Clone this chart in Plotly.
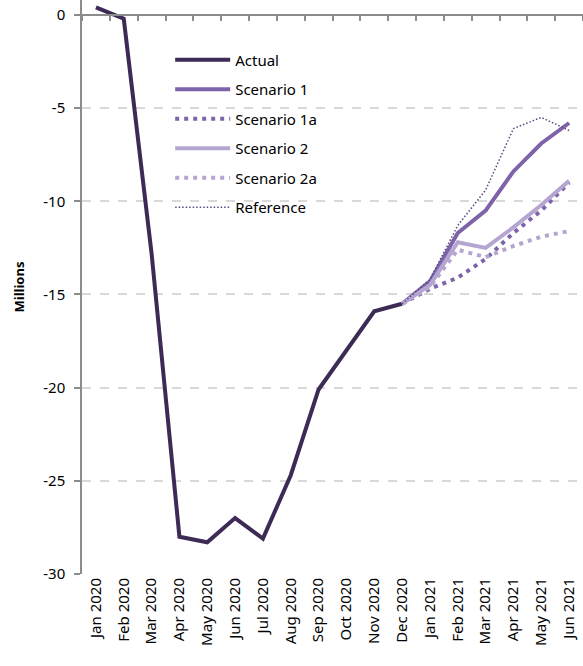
import plotly.graph_objects as go

months = ["Jan 2020", "Feb 2020", "Mar 2020", "Apr 2020", "May 2020", "Jun 2020",
          "Jul 2020", "Aug 2020", "Sep 2020", "Oct 2020", "Nov 2020", "Dec 2020",
          "Jan 2021", "Feb 2021", "Mar 2021", "Apr 2021", "May 2021", "Jun 2021"]

actual = [0.4, -0.2, -12.8, -28.0, -28.3, -27.0, -28.1, -24.7, -20.1, -18.0, -15.9, -15.5]
scen_months = months[11:]
scenario1 = [-15.5, -14.3, -11.7, -10.5, -8.4, -6.9, -5.8]
scenario1a = [-15.5, -14.7, -14.1, -13.1, -11.7, -10.5, -9.0]
scenario2 = [-15.5, -14.5, -12.2, -12.5, -11.4, -10.2, -8.9]
scenario2a = [-15.5, -14.6, -12.6, -13.0, -12.4, -11.9, -11.6]
reference = [-15.5, -14.2, -11.3, -9.4, -6.1, -5.5, -6.2]

y_ticks = [0, -5, -10, -15, -20, -25, -30]

C_ACT = "#3D2B56"
C_S1 = "#7E63A9"
C_S2 = "#B5A6D1"
C_REF = "#5B4A80"

fig = go.Figure()

def add(name, x, y, color, width, dash, group):
    fig.add_trace(go.Scatter(x=x, y=y, name=name, mode="lines",
                             line=dict(color=color, width=width, dash=dash),
                             legendgroup=group, hoverinfo="x+y+name"))

add("Actual", months[:12], actual, C_ACT, 4, "solid", "a")
add("Scenario 1", scen_months, scenario1, C_S1, 4, "solid", "b")
add("Scenario 1a", scen_months, scenario1a, C_S1, 4, "4px,5px", "c")
add("Scenario 2", scen_months, scenario2, C_S2, 4, "solid", "d")
add("Scenario 2a", scen_months, scenario2a, C_S2, 4, "4px,5px", "e")
add("Reference", scen_months, reference, C_REF, 1.5, "1.5px,2px", "f")

# invisible trace to carry the zero-line axis with boundary ticks
fig.add_trace(go.Scatter(x=months, y=[0] * len(months), xaxis="x2", yaxis="y",
                         mode="lines", line=dict(width=0), opacity=0,
                         showlegend=False, hoverinfo="skip"))

ymin, ymax = -30, 0.8
font = "'Noto Sans', sans-serif"

fig.update_layout(
    width=583, height=666,
    margin=dict(l=82, r=0, t=0, b=92, autoexpand=False),
    plot_bgcolor="white", paper_bgcolor="white",
    font=dict(family=font, size=15, color="#000000"),
    showlegend=True,
    legend=dict(x=0.176, y=0.924, xanchor="left", yanchor="top",
                bgcolor="rgba(0,0,0,0)", itemwidth=55, tracegroupgap=7,
                font=dict(size=15, family=font)),
    xaxis=dict(type="category", categoryorder="array", categoryarray=months,
               range=[-0.5, 17.5], showgrid=False, showline=False, ticks="",
               tickangle=-90, tickfont=dict(size=15, family=font),
               zeroline=False, automargin=False),
    xaxis2=dict(type="category", categoryorder="array", categoryarray=months,
                range=[-0.5, 17.5], overlaying="x", anchor="free",
                position=(0 - ymin) / (ymax - ymin), side="bottom",
                showline=True, linecolor="#8C8C8C", linewidth=1.5,
                ticks="outside", ticklen=5, tickcolor="#8C8C8C", tickwidth=1.5,
                tickson="boundaries", showticklabels=False, showgrid=False,
                zeroline=False, automargin=False),
    yaxis=dict(range=[ymin, ymax], tickvals=y_ticks, ticktext=[str(v) for v in y_ticks],
               showgrid=True, gridcolor="#D9D9D9", gridwidth=1.5, griddash="dash",
               showline=True, linecolor="#8C8C8C", linewidth=1.5,
               ticks="outside", ticklen=6, tickcolor="#8C8C8C", tickwidth=1.5,
               zeroline=False, ticklabelstandoff=6, automargin=False,
               tickfont=dict(size=15, family=font),
               title=dict(text="<b>Millions</b>", font=dict(size=13, family=font),
                          standoff=16)),
)

fig.write_html("out.html", post_script="document.body.style.margin='0';",
               config={"displayModeBar": False})
